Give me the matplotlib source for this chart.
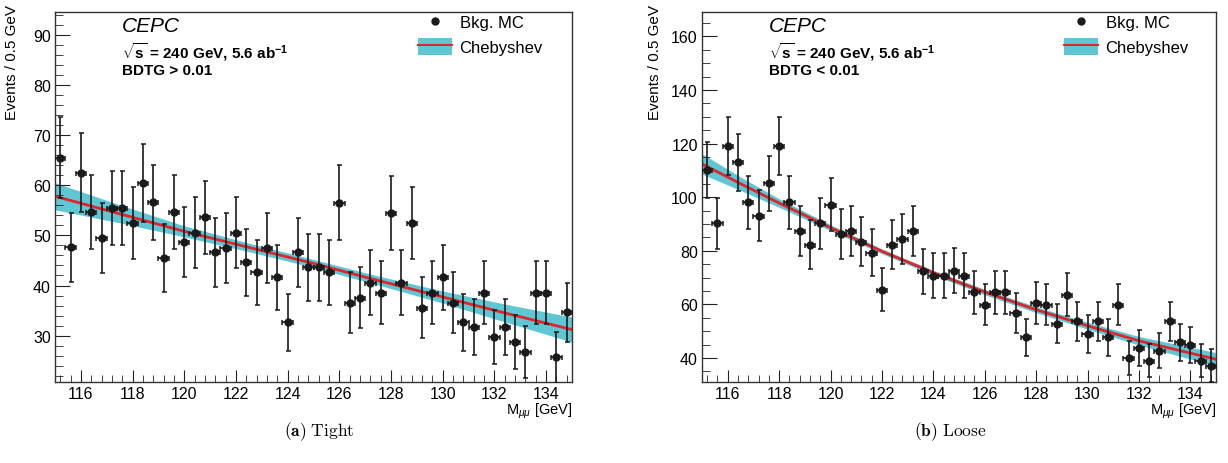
import numpy as np
import matplotlib
matplotlib.use("Agg")
import matplotlib.pyplot as plt
from matplotlib.lines import Line2D
from matplotlib.patches import Patch
from matplotlib.ticker import MultipleLocator

plt.rcParams['font.family'] = ['Liberation Sans', 'DejaVu Sans']
plt.rcParams['mathtext.fontset'] = 'custom'
plt.rcParams['mathtext.rm'] = 'Liberation Sans'
plt.rcParams['mathtext.bf'] = 'Liberation Sans:bold'
plt.rcParams['mathtext.it'] = 'Liberation Sans:italic'

# bin centres (0.4 GeV bins between 115 and 135 GeV)
mass = np.linspace(115.2, 134.8, 50)

# Tight: BDTG > 0.01
tight_counts = [65.5, 47.6, 62.5, 54.6, 49.5, 55.5, 55.5, 52.5, 60.5, 56.6,
                45.5, 54.6, 48.6, 50.5, 53.6, 46.6, 47.5, 50.5, 44.6, 42.6,
                47.5, 41.6, 32.7, 46.6, 43.6, 43.6, 42.6, 56.5, 36.6, 37.6,
                40.6, 38.6, 54.5, 40.6, 52.5, 35.6, 38.6, 41.6, 36.6, 32.7,
                31.7, 38.6, 29.7, 31.7, 28.7, 26.7, 38.6, 38.6, 25.7, 34.7]
tight_err = [8.1, 6.9, 7.9, 7.4, 7.0, 7.4, 7.4, 7.2, 7.8, 7.5,
             6.7, 7.4, 7.0, 7.1, 7.3, 6.8, 6.9, 7.1, 6.7, 6.5,
             6.9, 6.4, 5.7, 6.8, 6.6, 6.6, 6.5, 7.5, 6.0, 6.1,
             6.4, 6.2, 7.4, 6.4, 7.2, 6.0, 6.2, 6.4, 6.0, 5.7,
             5.6, 6.2, 5.4, 5.6, 5.4, 5.2, 6.2, 6.2, 5.1, 5.9]
tight_fit_x = [115, 117.5, 120, 122.5, 125, 127.5, 130, 132.5, 135]
tight_fit = [57.8, 54.3, 50.8, 47.6, 44.4, 41.0, 37.7, 34.4, 31.2]
tight_band = [2.7, 1.8, 1.1, 0.85, 0.8, 0.9, 1.2, 1.8, 2.5]

# Loose: BDTG < 0.01
loose_counts = [110.0, 90.2, 119.0, 113.0, 98.1, 93.1, 105.2, 119.0, 98.1, 87.3,
                82.3, 90.2, 97.2, 86.3, 87.3, 83.3, 79.3, 65.5, 82.3, 84.4,
                87.3, 72.3, 70.7, 70.7, 72.6, 70.7, 64.5, 59.8, 64.5, 64.5,
                56.8, 47.7, 60.5, 59.8, 52.7, 63.6, 53.7, 49.0, 53.7, 47.7,
                59.8, 39.9, 43.7, 39.0, 42.7, 53.7, 45.8, 44.9, 39.0, 37.1]
loose_err = [10.5, 9.5, 10.9, 10.6, 9.9, 9.6, 10.3, 10.9, 9.9, 9.3,
             9.1, 9.5, 9.9, 9.3, 9.3, 9.1, 8.9, 8.1, 9.1, 9.2,
             9.3, 8.5, 8.4, 8.4, 8.5, 8.4, 8.0, 7.7, 8.0, 8.0,
             7.5, 6.9, 7.8, 7.7, 7.3, 8.0, 7.3, 7.0, 7.3, 6.9,
             7.7, 6.3, 6.6, 6.2, 6.5, 7.3, 6.8, 6.7, 6.2, 6.1]
loose_fit_x = [115, 116.5, 118, 120, 122, 124, 126, 128, 130, 132, 135]
loose_fit = [112.4, 105.0, 97.8, 88.6, 79.8, 71.8, 64.6, 58.0, 52.0, 46.4, 39.5]
loose_band = [3.8, 2.5, 1.6, 1.1, 0.9, 0.9, 1.0, 1.1, 1.3, 1.6, 2.5]

BAND = '#5fc6d3'
RED = '#e3232a'


def draw_panel(fig, rect, counts, err, fit_x, fit, band, ylim, ymaj, ymin,
               cut_text, ylab_x, leg_x, caption, cap_x):
    ax = fig.add_axes(rect)
    fx = np.array(fit_x)
    fy = np.array(fit)
    fb = np.array(band)
    ax.fill_between(fx, fy - fb, fy + fb, color=BAND, lw=0, zorder=1)
    ax.plot(fx, fy, color=RED, lw=2, zorder=2)
    ax.errorbar(mass, counts, yerr=err, xerr=0.2, fmt='o', color='#1a1a1a',
                ms=5, elinewidth=1.2, capsize=1.8, capthick=1.1, zorder=3)

    ax.set_xlim(115, 135)
    ax.set_ylim(*ylim)
    ax.xaxis.set_minor_locator(MultipleLocator(0.4))
    ax.yaxis.set_major_locator(MultipleLocator(ymaj))
    ax.yaxis.set_minor_locator(MultipleLocator(ymin))
    ax.set_xticks([t for t in range(116, 135, 2)])
    ax.tick_params(axis='both', which='both', direction='in', top=False, right=False,
                   labelsize=11.5, color='#222222')
    ax.tick_params(axis='y', which='major', length=11, pad=3)
    ax.tick_params(axis='y', which='minor', length=6)
    ax.tick_params(axis='x', which='major', length=9, pad=3)
    ax.tick_params(axis='x', which='minor', length=5)
    for sp in ax.spines.values():
        sp.set_linewidth(1.0)
        sp.set_color('#333333')

    ax.text(0.13, 0.962, 'CEPC', transform=ax.transAxes, style='italic',
            fontsize=15, va='center', ha='left')
    ax.text(0.13, 0.894, r'$\sqrt{\mathbf{s}}$ = 240 GeV, 5.6 ab$^{\mathbf{-1}}$',
            transform=ax.transAxes, fontsize=11, fontweight='bold',
            va='center', ha='left')
    ax.text(0.13, 0.843, cut_text, transform=ax.transAxes, fontsize=11,
            fontweight='bold', va='center', ha='left')

    handles = [Line2D([], [], marker='o', ls='none', color='#1a1a1a', ms=5),
               (Patch(facecolor=BAND, edgecolor='none'),
                Line2D([], [], color=RED, lw=1.5))]
    ax.legend(handles, ['Bkg. MC', 'Chebyshev'], loc='upper left',
              bbox_to_anchor=(leg_x, 0.995), frameon=False, fontsize=12,
              handlelength=2.05, handleheight=1.15, handletextpad=0.45,
              labelspacing=0.45, borderpad=0, borderaxespad=0)

    x0, y0, w, h = rect
    fig.text(ylab_x, 0.99, 'Events / 0.5 GeV', rotation=90, ha='center',
             va='top', fontsize=11)
    fig.text(x0 + w, 1 - 411 / 464, r'M$_{\mu\mu}$ [GeV]', ha='right',
             va='center', fontsize=10.5)
    fig.text(cap_x, 1 - 432 / 464, caption, ha='center', va='center',
             fontsize=12.5, math_fontfamily='cm')
    return ax


fig = plt.figure(figsize=(12.28, 4.64), dpi=100)

draw_panel(fig, [55 / 1228, 1 - 383.3 / 464, 517 / 1228, 370.6 / 464],
           tight_counts, tight_err, tight_fit_x, tight_fit, tight_band,
           (20.7, 94.6), 10, 2, 'BDTG > 0.01', 12 / 1228, 0.702,
           r'$\mathbf{(a)}\ \mathrm{Tight}$', 319 / 1228)
draw_panel(fig, [702 / 1228, 1 - 383.3 / 464, 514 / 1228, 370.6 / 464],
           loose_counts, loose_err, loose_fit_x, loose_fit, loose_band,
           (30.9, 169.2), 20, 5, 'BDTG < 0.01', 655 / 1228, 0.704,
           r'$\mathbf{(b)}\ \mathrm{Loose}$', 950 / 1228)

fig.savefig('out.png', dpi=100)
